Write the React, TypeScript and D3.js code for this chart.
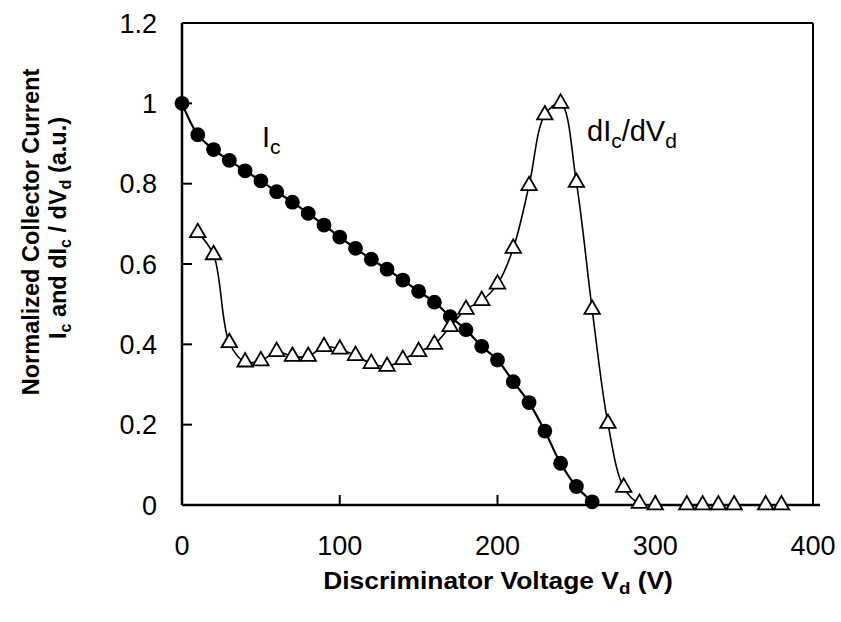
import React from "react";
import * as d3 from "d3";

const icX = [0, 10, 20, 30, 40, 50, 60, 70, 80, 90, 100, 110, 120, 130, 140, 150, 160, 170, 180, 190, 200, 210, 220, 230, 240, 250, 260];
const icY = [1.0, 0.922, 0.885, 0.858, 0.832, 0.807, 0.78, 0.754, 0.726, 0.697, 0.667, 0.639, 0.612, 0.587, 0.56, 0.532, 0.505, 0.469, 0.436, 0.395, 0.361, 0.307, 0.255, 0.184, 0.104, 0.046, 0.008];

const dX = [10, 20, 30, 40, 50, 60, 70, 80, 90, 100, 110, 120, 130, 140, 150, 160, 170, 180, 190, 200, 210, 220, 230, 240, 250, 260, 270, 280, 290, 300, 320, 330, 340, 350, 370, 380];
const dY = [0.678, 0.623, 0.404, 0.356, 0.359, 0.382, 0.37, 0.37, 0.394, 0.388, 0.372, 0.352, 0.345, 0.362, 0.382, 0.4, 0.444, 0.487, 0.509, 0.55, 0.639, 0.795, 0.971, 1.0, 0.803, 0.487, 0.203, 0.044, 0.004, 0.0, 0.0, 0.0, 0.0, 0.0, 0.0, 0.0];

const xTicks = [0, 100, 200, 300, 400];
const yTicks = [0, 0.2, 0.4, 0.6, 0.8, 1.0, 1.2];
const yTickLabels = ["0", "0.2", "0.4", "0.6", "0.8", "1", "1.2"];

export default function App() {
  const W = 841, H = 622;
  const L = 182, R = 813, T = 23, B = 505;
  const x = d3.scaleLinear().domain([0, 400]).range([L, R]);
  const y = d3.scaleLinear().domain([0, 1.2]).range([B, T]);
  const font = "Arial, 'Liberation Sans', sans-serif";

  const icPts: [number, number][] = icX.map((v, i) => [v, icY[i]]);
  const dPts: [number, number][] = dX.map((v, i) => [v, dY[i]]);
  const line = d3.line<[number, number]>().x(d => x(d[0])).y(d => y(d[1])).curve(d3.curveCatmullRom.alpha(0.5));

  const tri = (cx: number, cy: number, s: number) => {
    const h = s * Math.sqrt(3) / 2;
    return `M${cx},${cy - h * 2 / 3}L${cx + s / 2},${cy + h / 3}L${cx - s / 2},${cy + h / 3}Z`;
  };

  return (
    <div style={{ position: "fixed", left: 0, top: 0 }}>
      <svg width={W} height={H} style={{ display: "block", background: "#fff" }}>
        <rect x={0} y={0} width={W} height={H} fill="#fff" />
        {/* frame */}
        <line x1={L} y1={T} x2={R} y2={T} stroke="#000" strokeWidth={2} />
        <line x1={R} y1={T} x2={R} y2={B} stroke="#000" strokeWidth={2} />
        <line x1={L} y1={T} x2={L} y2={B} stroke="#000" strokeWidth={2.5} />
        <line x1={L} y1={B} x2={R + 7} y2={B} stroke="#000" strokeWidth={2.5} />
        {/* y ticks */}
        {yTicks.map((t, i) => (
          <g key={"yt" + i}>
            <line x1={L} x2={L + 10} y1={y(t)} y2={y(t)} stroke="#000" strokeWidth={2} />
            <text x={157} y={y(t)} dy="0.36em" textAnchor="end" fontFamily={font} fontSize={27} fill="#000">{yTickLabels[i]}</text>
          </g>
        ))}
        {/* x ticks */}
        {xTicks.map((t, i) => (
          <g key={"xt" + i}>
            {i > 0 && i < xTicks.length - 1 && (
              <line x1={x(t)} x2={x(t)} y1={B} y2={B - 10} stroke="#000" strokeWidth={2} />
            )}
            <text x={x(t)} y={555} textAnchor="middle" fontFamily={font} fontSize={27} fill="#000">{t}</text>
          </g>
        ))}
        {/* series lines */}
        <path d={line(dPts) || ""} fill="none" stroke="#000" strokeWidth={1.6} />
        <path d={line(icPts) || ""} fill="none" stroke="#000" strokeWidth={2.2} />
        {icPts.map((p, i) => (
          <circle key={"c" + i} cx={x(p[0])} cy={y(p[1])} r={7.4} fill="#000" />
        ))}
        {dPts.map((p, i) => (
          <path key={"t" + i} d={tri(x(p[0]), y(p[1]), 15.5)} fill="#fff" stroke="#000" strokeWidth={1.8} />
        ))}
        {/* annotations */}
        <text x={262} y={147} fontFamily={font} fontSize={29} fill="#000">
          I<tspan fontSize={21} dy={7}>c</tspan>
        </text>
        <text x={587} y={141} fontFamily={font} fontSize={29} fill="#000">
          dI<tspan fontSize={21} dy={7}>c</tspan><tspan dy={-7}>/dV</tspan><tspan fontSize={21} dy={7}>d</tspan>
        </text>
        {/* axis titles */}
        <g transform="translate(498,589) scale(1.1,1)">
          <text x={0} y={0} textAnchor="middle" fontFamily={font} fontWeight="bold" fontSize={24} fill="#000">
            Discriminator Voltage V<tspan fontSize={17} dy={5}>d</tspan><tspan dy={-5}> (V)</tspan>
          </text>
        </g>
        <g transform="translate(39,232) rotate(-90)">
          <text x={0} y={0} textAnchor="middle" fontFamily={font} fontWeight="bold" fontSize={23.5} fill="#000">Normalized Collector Current</text>
        </g>
        <g transform="translate(66,228) rotate(-90)">
          <text x={0} y={0} textAnchor="middle" fontFamily={font} fontWeight="bold" fontSize={23.5} fill="#000">
            I<tspan fontSize={16} dy={5}>c</tspan><tspan dy={-5}> and dI</tspan><tspan fontSize={16} dy={5}>c</tspan><tspan dy={-5}> / dV</tspan><tspan fontSize={16} dy={5}>d</tspan><tspan dy={-5}> (a.u.)</tspan>
          </text>
        </g>
      </svg>
    </div>
  );
}
